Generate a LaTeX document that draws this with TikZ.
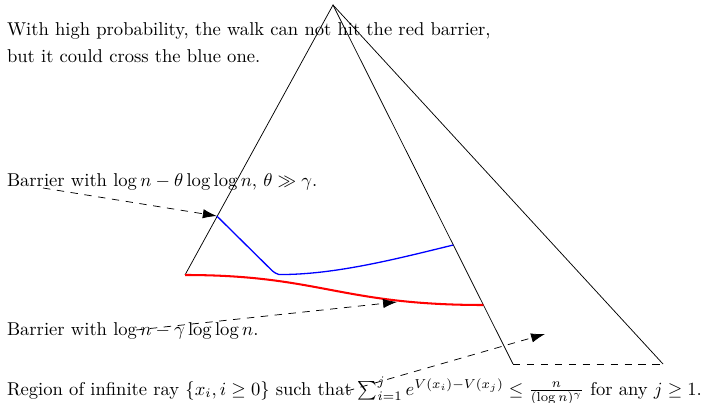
\documentclass[tikz,border=0pt]{standalone}
\usetikzlibrary{arrows.meta}
\begin{document}
\begin{tikzpicture}[x=0.538pt,y=-0.538pt,
  txt/.style={anchor=base west,inner sep=0pt,outer sep=0pt},
  edge/.style={draw=black,line width=0.4pt},
  dashline/.style={dash pattern=on 4pt off 3.5pt},
  redbar/.style={draw=red,line width=1.1pt},
  bluebar/.style={draw=blue,line width=0.7pt},
  pointer/.style={draw=black,dashline,line width=0.4pt,-{Latex[length=7.5pt,width=5pt]}}]
\useasboundingbox (0,0) rectangle (702,403);
% geometry
\coordinate (A) at (333,5);
\coordinate (L) at (185,275);
\coordinate (M) at (513,364);
\coordinate (R) at (663,364);
\coordinate (B0) at (216.8,216);
\coordinate (B1) at (275,273.5);
\coordinate (B2) at (453.3,245);
\coordinate (R2) at (483.4,305);
\draw[edge] (L) -- (A) -- (M);
\draw[edge] (A) -- (R);
\draw[edge,dashline] (M) -- (R);
\draw[bluebar,rounded corners=2pt] (B0) -- (B1) -- (279,274.5);
\draw[bluebar] (279,274.5) .. controls (335,275) and (400,258) .. (B2);
\draw[redbar] (L) .. controls (320,275) and (340,305) .. (R2);
% texts
\node[txt] (t1) at (7,36) {With high probability, the walk can not hit the red barrier,};
\node[txt] (t2) at (7,63) {but it could cross the blue one.};
\node[txt] (t3) at (7,187) {Barrier with $\log n-\theta\log\log n$, $\theta\gg\gamma$.};
\node[txt] (t4) at (7,335) {Barrier with $\log n-\gamma\log\log n$.};
\node[txt] (t5) at (7,395) {Region of infinite ray $\{x_i, i\geq 0\}$ such that $\sum_{i=1}^j e^{V(x_i)-V(x_j)}\leq\frac{n}{(\log n)^\gamma}$ for any $j\geq 1$.};
% pointers
\coordinate (p1) at (43,188);
\coordinate (p2) at (136,330);
\coordinate (p3) at (347,391);
\coordinate (q2) at (397,302);
\coordinate (q3) at (545,334);
\draw[pointer] (p1) -- (B0);
\draw[pointer] (p2) -- (q2);
\draw[pointer] (p3) -- (q3);
\end{tikzpicture}
\end{document}
